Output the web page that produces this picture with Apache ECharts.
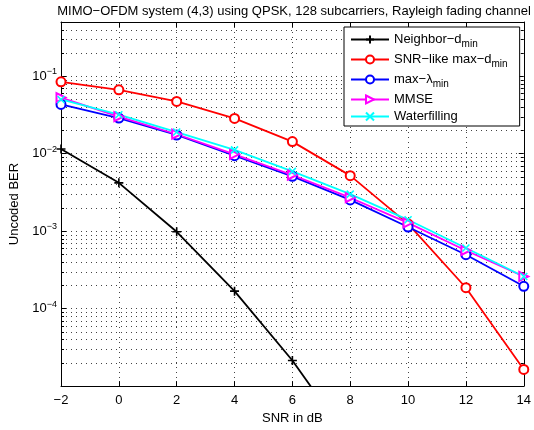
<!DOCTYPE html>
<html>
<head>
<meta charset="utf-8">
<script src="https://cdn.jsdelivr.net/npm/echarts@6/dist/echarts.min.js"></script>
<style>html,body{margin:0;padding:0;background:#fff}#c{width:534px;height:430px}</style>
</head>
<body>
<div id="c"></div>
<script>
var snr = [-2, 0, 2, 4, 6, 8, 10, 12, 14];
var neighborDmin = [0.0115, 0.0042, 0.00098, 0.000168, 0.0000214, 0.0000019, null, null, null];
var snrLikeMaxDmin = [0.0845, 0.0667, 0.0472, 0.0285, 0.0143, 0.0052, 0.00124, 0.000186, 0.0000164];
var maxLambdaMin = [0.0432, 0.0288, 0.0174, 0.0094, 0.0051, 0.00253, 0.00113, 0.000496, 0.000194];
var mmse = [0.053, 0.0300, 0.0178, 0.0098, 0.0053, 0.0027, 0.00128, 0.000563, 0.00026];
var waterfilling = [0.050, 0.0318, 0.0190, 0.0112, 0.0059, 0.0030, 0.00140, 0.000605, 0.00026];

var seriesNames = ['Neighbor-dmin', 'SNR-like max-dmin', 'max-lambdamin', 'MMSE', 'Waterfilling'];
var legendLabels = ['{t|Neighbor\u2212d}{s|min}', '{t|SNR\u2212like max\u2212d}{s|min}', '{t|max\u2212\u03bb}{s|min}', '{t|MMSE}', '{t|Waterfilling}'];
var xTicks = [-2, 0, 2, 4, 6, 8, 10, 12, 14];
var yTickExps = [-1, -2, -3, -4];
var yMin = 1e-5, yMax = 0.5;
var titleText = 'MIMO\u2212OFDM system (4,3) using QPSK, 128 subcarriers, Rayleigh fading channel';

var FONT = 'Liberation Sans, Arial, Helvetica, sans-serif';
var FS = 13;

// minor grid values 2..9 x 10^k within range
var minorVals = [];
for (var k = -5; k <= -1; k++) {
  for (var m = 2; m <= 9; m++) {
    var v = m * Math.pow(10, k);
    if (v > yMin && v < yMax) minorVals.push(v);
  }
}

function mkSeries(name, data, color, symbol, size) {
  return {
    name: name, type: 'line', data: snr.map(function (x, i) { return [x, data[i]]; }),
    symbol: symbol, symbolSize: size, showAllSymbol: true,
    lineStyle: { color: color, width: 1.8 },
    itemStyle: { color: color, borderColor: color, borderWidth: 1.6 },
    emphasis: { disabled: true }, animation: false, clip: true, z: 5
  };
}

var chart = echarts.init(document.getElementById('c'), null, { renderer: 'canvas' });
var option = {
  animation: false,
  title: {
    text: titleText, left: 289, textAlign: 'center', top: 0,
    textStyle: { fontSize: 13, fontWeight: 'normal', fontFamily: FONT, color: '#000' }
  },
  grid: { left: 60, right: 10, top: 22, bottom: 43, containLabel: false },
  legend: {
    data: seriesNames, orient: 'vertical', left: 344, top: 27,
    backgroundColor: '#fff', borderColor: '#000', borderWidth: 1,
    padding: [6, 12, 3, 6], itemGap: 4, itemWidth: 38, itemHeight: 10,
    selectedMode: false,
    formatter: function (n) { return legendLabels[seriesNames.indexOf(n)]; },
    textStyle: {
      fontFamily: FONT, color: '#000',
      rich: {
        t: { fontSize: FS, fontFamily: FONT, color: '#000' },
        s: { fontSize: 10, fontFamily: FONT, color: '#000', padding: [9, 0, 0, 0] }
      }
    }
  },
  xAxis: [{
    type: 'value', min: -2, max: 14, interval: 2,
    name: 'SNR in dB', nameLocation: 'middle', nameGap: 25,
    nameTextStyle: { fontSize: FS, fontFamily: FONT, color: '#000' },
    axisLine: { show: true, onZero: false, lineStyle: { color: '#000', width: 1 } },
    axisTick: { show: true, inside: true, length: 5, lineStyle: { color: '#000' } },
    axisLabel: {
      fontSize: FS, fontFamily: FONT, color: '#000', margin: 8,
      formatter: function (v) { if (xTicks.indexOf(v) < 0) return ''; return v < 0 ? '\u2212' + Math.abs(v) : String(v); }
    },
    splitLine: { show: true, lineStyle: { color: '#444', type: [1, 4], width: 1 } }
  }, {
    type: 'value', min: -2, max: 14, interval: 2, position: 'top',
    axisLine: { show: true, onZero: false, lineStyle: { color: '#000', width: 1 } },
    axisTick: { show: true, inside: true, length: 5, lineStyle: { color: '#000' } },
    axisLabel: { show: false }, splitLine: { show: false }
  }],
  yAxis: [{
    type: 'log', logBase: 10, min: yMin, max: yMax,
    name: 'Uncoded BER', nameLocation: 'middle', nameGap: 40, nameRotate: 90,
    nameTextStyle: { fontSize: FS, fontFamily: FONT, color: '#000' },
    axisLine: { show: true, onZero: false, lineStyle: { color: '#000', width: 1 } },
    axisTick: { show: true, inside: true, length: 5, lineStyle: { color: '#000' } },
    axisLabel: {
      fontFamily: FONT, color: '#000', margin: 4,
      formatter: function (v) {
        var e = Math.log(v) / Math.LN10, r = Math.round(e);
        if (Math.abs(e - r) > 1e-6 || yTickExps.indexOf(r) < 0) return '';
        return '{b|10}{p|\u2212' + Math.abs(r) + '}';
      },
      rich: {
        b: { fontSize: FS, fontFamily: FONT, color: '#000' },
        p: { fontSize: 9, fontFamily: FONT, color: '#000', padding: [0, 0, 9, 0] }
      }
    },
    splitLine: { show: true, lineStyle: { color: '#444', type: [1, 4], width: 1 } }
  }, {
    type: 'log', logBase: 10, min: yMin, max: yMax, position: 'right',
    axisLine: { show: true, onZero: false, lineStyle: { color: '#000', width: 1 } },
    axisTick: { show: true, inside: true, length: 5, lineStyle: { color: '#000' } },
    axisLabel: { show: false }, splitLine: { show: false }
  }],
  series: [
    {
      name: 'minor-grid', type: 'custom', silent: true, z: 1, clip: false,
      data: minorVals.map(function (v) { return [-2, v]; }),
      renderItem: function (params, api) {
        var cs = params.coordSys;
        var p = api.coord([-2, api.value(1)]);
        var y = Math.round(p[1]) + 0.5;
        var x0 = cs.x, x1 = cs.x + cs.width;
        return {
          type: 'group', children: [
            { type: 'line', shape: { x1: x0, y1: y, x2: x1, y2: y }, style: { stroke: '#444', lineWidth: 1, lineDash: [1, 4] } },
            { type: 'line', shape: { x1: x0, y1: y, x2: x0 + 3, y2: y }, style: { stroke: '#000', lineWidth: 1 } },
            { type: 'line', shape: { x1: x1 - 3, y1: y, x2: x1, y2: y }, style: { stroke: '#000', lineWidth: 1 } }
          ]
        };
      }
    },
    mkSeries(seriesNames[0], neighborDmin, '#000000', 'path://M0,5L10,5M5,0L5,10', 9),
    mkSeries(seriesNames[1], snrLikeMaxDmin, '#ff0000', 'emptyCircle', 9),
    mkSeries(seriesNames[2], maxLambdaMin, '#0000ff', 'emptyCircle', 9),
    mkSeries(seriesNames[3], mmse, '#ff00ff', 'emptypath://M0,0L10,5L0,10Z', 9),
    mkSeries(seriesNames[4], waterfilling, '#00ffff', 'path://M0,0L10,10M10,0L0,10', 7)
  ]
};
chart.setOption(option);
</script>
</body>
</html>
